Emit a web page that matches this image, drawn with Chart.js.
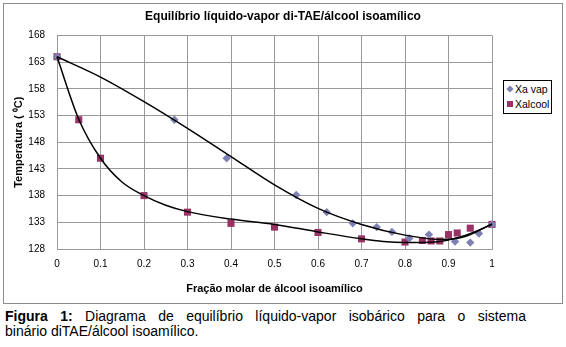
<!DOCTYPE html>
<html>
<head>
<meta charset="utf-8">
<script src="https://cdn.jsdelivr.net/npm/chart.js@4.4.3/dist/chart.umd.min.js"></script>
<style>
  body { margin: 0; background: #fff; width: 566px; height: 347px; overflow: hidden; font-family: "Liberation Sans", Arial, sans-serif; }
  #frame { position: absolute; left: 3px; top: 3px; width: 558px; height: 299px; border: 1px solid #8c8c8c; }
  #frame canvas { position: absolute; left: 0; top: 0; }
  #legend { position: absolute; left: 503px; top: 80px; border: 1px solid #000; background: #fff; padding: 1px 2px 1px 3px; font-size: 10.5px; line-height: 15px; color: #000; }
  #legend .mk { display: inline-block; width: 6px; height: 6px; margin-right: 2px; vertical-align: 1px; }
  #legend .dia { transform: rotate(45deg) scale(0.85); }
  #caption { position: absolute; left: 5px; top: 309px; width: 521px; font-size: 14px; line-height: 15px; color: #000; }
  #caption .l1 { text-align: justify; text-align-last: justify; }
</style>
</head>
<body>
<div id="frame"><canvas id="chart" width="558" height="299"></canvas></div>
<div id="legend"></div>
<div id="caption"><div class="l1"><b>Figura 1:</b> Diagrama de equilíbrio líquido-vapor isobárico para o sistema</div><div>binário diTAE/álcool isoamílico.</div></div>
<script>
const chartTitle = 'Equilíbrio líquido-vapor di-TAE/álcool isoamílico';
const xTitle = 'Fração molar de álcool isoamílico';
const yTitle = 'Temperatura ( \u2070C)';

const xTicks = [0, 0.1, 0.2, 0.3, 0.4, 0.5, 0.6, 0.7, 0.8, 0.9, 1];
const xTickLabels = ['0', '0.1', '0.2', '0.3', '0.4', '0.5', '0.6', '0.7', '0.8', '0.9', '1'];
const yTicks = [128, 133, 138, 143, 148, 153, 158, 163, 168];

// pontos experimentais
const vapX = [0, 0.27, 0.39, 0.55, 0.62, 0.68, 0.735, 0.77, 0.81, 0.855, 0.915, 0.95, 0.97, 1];
const vapY = [164, 152.2, 145, 138.1, 134.9, 132.8, 132.1, 131.2, 130, 130.7, 129.4, 129.2, 130.9, 132.6];
const alcX = [0, 0.05, 0.1, 0.2, 0.3, 0.4, 0.5, 0.6, 0.7, 0.8, 0.84, 0.86, 0.88, 0.9, 0.92, 0.95, 1];
const alcY = [164, 152.2, 145, 138, 134.9, 132.8, 132.1, 131.1, 129.9, 129.3, 129.6, 129.5, 129.5, 130.7, 131, 131.9, 132.6];

// linhas de tendência
const dewX = [0, 0.1, 0.2, 0.3, 0.4, 0.5, 0.6, 0.7, 0.8, 0.88, 0.94, 1];
const dewY = [164, 160.2, 155.6, 150.6, 145.3, 140, 135.6, 132.6, 130.6, 129.8, 130.4, 132.7];
const bubX = [0, 0.05, 0.1, 0.15, 0.2, 0.25, 0.3, 0.4, 0.5, 0.6, 0.7, 0.75, 0.8, 0.87, 0.94, 1];
const bubY = [164, 152.3, 145, 140.5, 138, 136.2, 135, 133.6, 132.6, 131.2, 129.9, 129.4, 129.2, 129.3, 130.6, 132.6];

const seriesNames = ['Xa vap', 'Xalcool'];
const seriesColors = ['#7f80b4', '#993366'];

const FONT = '"Liberation Sans", Arial, sans-serif';
const pts = (xs, ys) => xs.map((x, i) => ({ x, y: ys[i] }));
const lineDs = (data) => ({
  data, showLine: true, borderColor: '#000', borderWidth: 1.5, pointRadius: 0,
  cubicInterpolationMode: 'monotone', fill: false, order: 0, clip: false,
});

const chart = new Chart(document.getElementById('chart'), {
  type: 'scatter',
  data: {
    datasets: [
      { label: seriesNames[0], data: pts(vapX, vapY), pointStyle: 'rectRot', pointRadius: 4.2,
        backgroundColor: seriesColors[0], borderColor: seriesColors[0], borderWidth: 0, order: 1, clip: false },
      { label: seriesNames[1], data: pts(alcX, alcY), pointStyle: 'rect', pointRadius: 5,
        backgroundColor: seriesColors[1], borderColor: seriesColors[1], borderWidth: 0, order: 2, clip: false },
      lineDs(pts(dewX, dewY)),
      lineDs(pts(bubX, bubY)),
    ],
  },
  options: {
    responsive: false,
    animation: false,
    layout: { padding: 0 },
    plugins: {
      legend: { display: false },
      tooltip: { enabled: false },
      title: {
        display: true, text: chartTitle, color: '#000',
        font: { family: FONT, size: 12, weight: 'bold' },
        padding: { top: 5, bottom: 12 },
      },
    },
    scales: {
      x: {
        type: 'linear', min: 0, max: 1,
        afterBuildTicks: (s) => { s.ticks = xTicks.map((v) => ({ value: v })); },
        afterFit: (s) => { s.height = 54; },
        ticks: { callback: (v, i) => xTickLabels[i], color: '#000', padding: 9, maxRotation: 0, autoSkip: false,
          font: { family: FONT, size: 10 } },
        grid: { color: '#999', drawTicks: false },
        border: { color: '#999' },
        title: { display: true, text: xTitle, color: '#000', font: { family: FONT, size: 11, weight: 'bold' },
          padding: { top: 4, bottom: 7 } },
      },
      y: {
        type: 'linear', min: 128, max: 168,
        afterBuildTicks: (s) => { s.ticks = yTicks.map((v) => ({ value: v })); },
        afterFit: (s) => { s.width = 53; },
        ticks: { color: '#000', padding: 12, font: { family: FONT, size: 10 } },
        grid: { color: '#999', drawTicks: false },
        border: { color: '#999' },
        title: { display: true, text: yTitle, color: '#000', font: { family: FONT, size: 11, weight: 'bold' },
          padding: { top: 8, bottom: 0 } },
      },
      yr: {
        position: 'right', display: true,
        ticks: { display: false }, grid: { display: false }, border: { display: false },
        afterFit: (s) => { s.width = 70; },
      },
    },
  },
});

// legenda
document.getElementById('legend').innerHTML = seriesNames.map((n, i) =>
  `<div><span class="mk ${i === 0 ? 'dia' : ''}" style="background:${seriesColors[i]}"></span>${n}</div>`
).join('');
</script>
</body>
</html>
